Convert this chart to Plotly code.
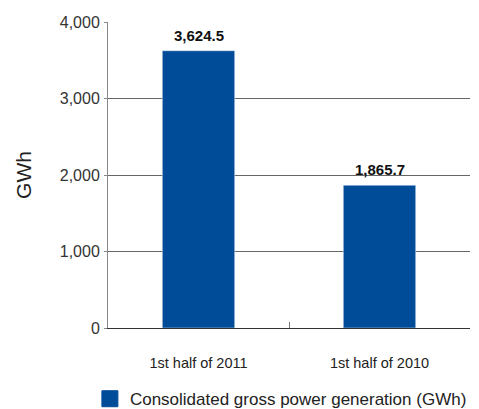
import plotly.graph_objects as go

categories = ["1st half of 2011", "1st half of 2010"]
values = [3624.5, 1865.7]
series_name = "Consolidated gross power generation (GWh)"
y_ticks = [0, 1000, 2000, 3000, 4000]
y_tick_labels = ["0", "1,000", "2,000", "3,000", "4,000"]

BAR = "#004C99"
FONT = "Liberation Sans, Arial, Helvetica, sans-serif"

fig = go.Figure()
fig.add_trace(go.Bar(
    x=categories, y=values, marker_color=BAR, width=0.4,
    showlegend=False,
))
fig.add_trace(go.Scatter(
    x=[None], y=[None], mode="markers", name=series_name,
    marker=dict(symbol="square", size=16, color=BAR, line=dict(width=1, color=BAR)),
))
for c, v in zip(categories, values):
    fig.add_annotation(
        x=c, y=v, text=f"{v:,.1f}", showarrow=False,
        yanchor="bottom", yshift=5,
        font=dict(family=FONT, size=15, color="#111111", weight="bold"),
    )

fig.update_layout(
    width=479, height=409,
    margin=dict(l=108, r=9, t=22, b=81, autoexpand=False),
    plot_bgcolor="white", paper_bgcolor="white",
    font=dict(family=FONT, color="#333333"),
    showlegend=True,
    legend=dict(orientation="h", x=-0.05, xanchor="left",
                yref="container", y=0.024, yanchor="middle",
                font=dict(size=17, color="#222222"), itemsizing="trace",
                bgcolor="rgba(0,0,0,0)"),
    bargap=0.6,
)
fig.update_xaxes(
    showline=True, linecolor="#333333", linewidth=1.2,
    ticks="inside", tickson="boundaries", ticklen=6, tickcolor="#777777",
    tickfont=dict(size=14.5, color="#222222"), ticklabelstandoff=21,
    showgrid=False, zeroline=False,
)
fig.update_yaxes(
    range=[0, 4000], tickvals=y_ticks, ticktext=y_tick_labels,
    showline=True, linecolor="#888888", linewidth=1,
    ticks="outside", ticklen=3, tickcolor="#888888",
    showgrid=True, gridcolor="#666666", gridwidth=1, zeroline=False,
    tickfont=dict(size=16, color="#333333"), ticklabelstandoff=1,
    title=dict(text="GWh", font=dict(size=21, color="#222222"), standoff=22),
)

fig.write_html("out.html")
